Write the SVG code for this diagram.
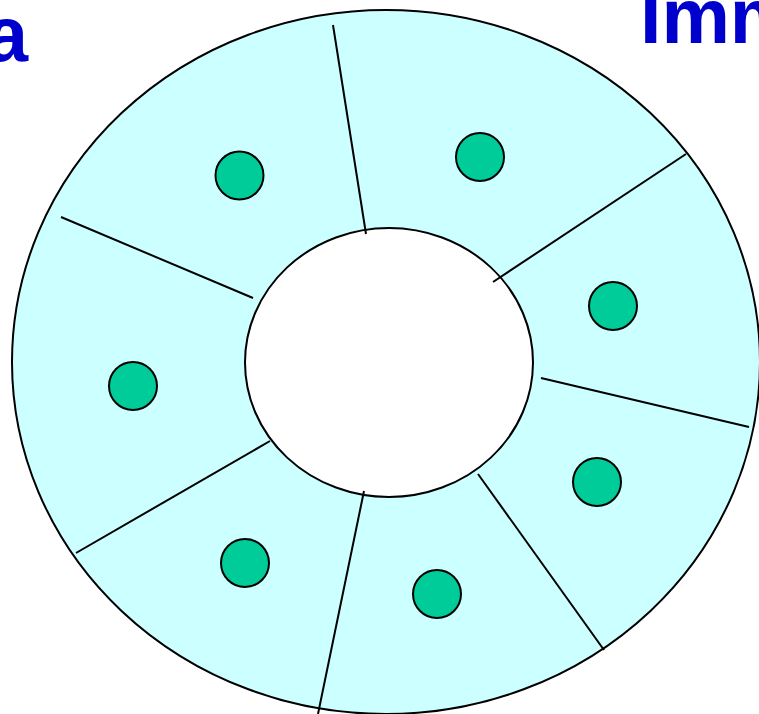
<svg xmlns="http://www.w3.org/2000/svg" width="759" height="714" viewBox="0 0 759 714">
<style>
.t{font-family:"Liberation Sans",Arial,sans-serif;font-weight:bold;font-size:77px;fill:#0000CC}
.seg{stroke:#000;stroke-width:2;fill:none}
.dot{fill:#00CC99;stroke:#000;stroke-width:2}
</style>
<rect width="759" height="714" fill="#fff"/>
<g id="ring">
<ellipse cx="386" cy="362" rx="374" ry="352" fill="#CCFFFF" stroke="#000" stroke-width="2"/>
<ellipse cx="389" cy="362.5" rx="144" ry="134.5" fill="#fff" stroke="#000" stroke-width="2"/>
</g>
<g id="connectors">
<line class="seg" x1="333" y1="25" x2="366" y2="234"/>
<line class="seg" x1="686" y1="154" x2="493" y2="282"/>
<line class="seg" x1="541" y1="378" x2="749" y2="427"/>
<line class="seg" x1="478" y1="474" x2="604" y2="650"/>
<line class="seg" x1="364" y1="491" x2="318" y2="714"/>
<line class="seg" x1="270" y1="441" x2="76" y2="553"/>
<line class="seg" x1="253" y1="298" x2="61" y2="217"/>
</g>
<g id="cells">
<circle class="dot" cx="239.5" cy="175.5" r="24"/>
<circle class="dot" cx="480" cy="157" r="24"/>
<circle class="dot" cx="613" cy="306" r="24"/>
<circle class="dot" cx="597" cy="482" r="24"/>
<circle class="dot" cx="437" cy="594" r="24"/>
<circle class="dot" cx="245" cy="563" r="24"/>
<circle class="dot" cx="133" cy="386" r="24"/>
</g>
<g id="labels">
<text class="t" x="28" y="61" text-anchor="end">a</text>
<text class="t" x="640" y="43">Imm</text>
</g>
</svg>
